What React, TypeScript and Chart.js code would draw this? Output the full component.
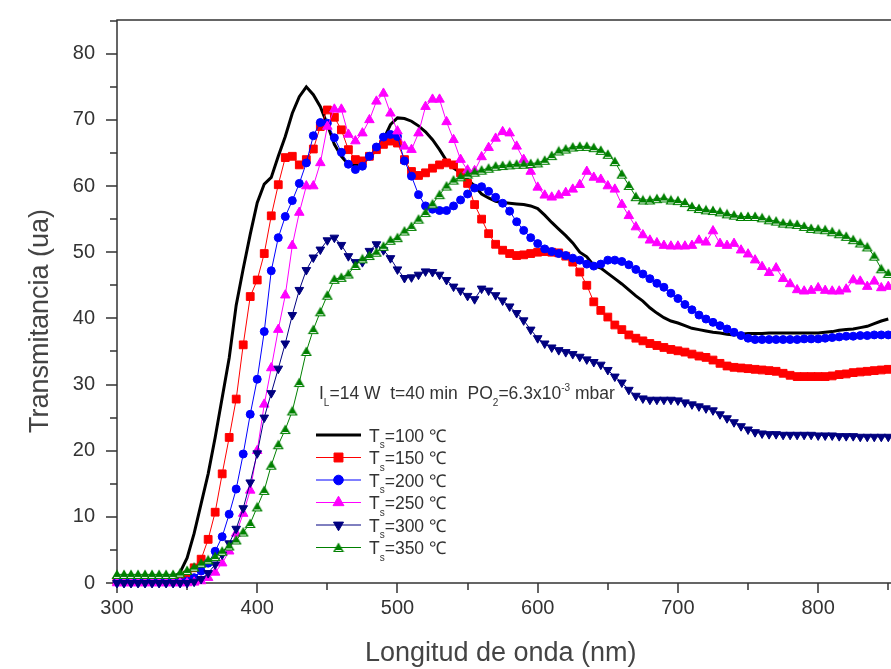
import React, { useEffect, useRef } from 'react';
import { Chart, registerables } from 'chart.js';

Chart.register(...registerables);

const FONT = '"Liberation Sans", Arial, sans-serif';

// Wavelength (nm)
const wavelength = [
  300, 305, 310, 315, 320, 325, 330, 335, 340, 345,
  350, 355, 360, 365, 370, 375, 380, 385, 390, 395,
  400, 405, 410, 415, 420, 425, 430, 435, 440, 445,
  450, 455, 460, 465, 470, 475, 480, 485, 490, 495,
  500, 505, 510, 515, 520, 525, 530, 535, 540, 545,
  550, 555, 560, 565, 570, 575, 580, 585, 590, 595,
  600, 605, 610, 615, 620, 625, 630, 635, 640, 645,
  650, 655, 660, 665, 670, 675, 680, 685, 690, 695,
  700, 705, 710, 715, 720, 725, 730, 735, 740, 745,
  750, 755, 760, 765, 770, 775, 780, 785, 790, 795,
  800, 805, 810, 815, 820, 825, 830, 835, 840, 845,
  850,
];

const ts100 = [
  0.5, 0.5, 0.5, 0.5, 0.5, 0.5, 0.5, 0.5, 0.7, 1.6,
  3.8, 7.5, 12, 16.5, 22, 28, 34, 42, 47.5, 52.7,
  57.5, 60.3, 61.3, 64.5, 67.5, 71, 73.5, 75, 73.8, 72,
  69.3, 66.3, 64.5, 63.3, 63.2, 63.5, 64.3, 65.5, 67, 69.3,
  70.3, 70.2, 69.8, 69.1, 68.2, 67, 65.5, 63.8, 62.7, 62,
  61, 60, 58.8, 58.2, 57.7, 57.5, 57.4, 57.3, 57.2, 57,
  56.6, 55.6, 54.5, 53.5, 52.5, 51.4, 50, 49.3, 48, 47.6,
  46.8, 46, 45.2, 44.3, 43.4, 42.6, 41.6, 40.8, 40.1, 39.6,
  39.3, 38.9, 38.5, 38.3, 38.1, 37.9, 37.8, 37.6, 37.5, 37.6,
  37.7, 37.7, 37.7, 37.8, 37.8, 37.8, 37.8, 37.8, 37.8, 37.8,
  37.8, 37.9, 38, 38.2, 38.3, 38.4, 38.6, 38.8, 39.2, 39.6,
  39.9,
];

const ts150 = [
  0.3, 0.3, 0.3, 0.3, 0.3, 0.3, 0.3, 0.3, 0.3, 0.5,
  1.2, 2.3, 3.6, 6.6, 10.7, 16.5, 22, 27.8, 36, 43.3,
  45.8, 49.8, 55.5, 60.2, 64.3, 64.5, 63.2, 64, 65.6, 69,
  71.5, 70.4, 68.5, 65.5, 64, 63.8, 64.5, 65.5, 66.3, 66.8,
  66.5, 64, 62.2, 61.6, 62, 62.7, 63.2, 63.5, 63.2, 62,
  60.4, 57.2, 55, 52.8, 51.2, 50.3, 49.8, 49.5, 49.6, 49.8,
  50, 50.1, 50, 49.9, 49.4, 48.5, 47, 45, 42.5, 41.2,
  40.2, 39, 38.3, 37.5, 37, 36.6, 36.2, 35.9, 35.6, 35.3,
  35.1, 34.9, 34.6, 34.3, 34.1, 33.7, 33.2, 32.8, 32.6, 32.5,
  32.4, 32.3, 32.2, 32.1, 32, 31.7, 31.4, 31.2, 31.2, 31.2,
  31.2, 31.2, 31.3, 31.5, 31.6, 31.8, 31.9, 32, 32.1, 32.2,
  32.3,
];

const ts200 = [
  0.1, 0.1, 0.1, 0.1, 0.1, 0.1, 0.1, 0.1, 0.1, 0.1,
  0.3, 0.8, 1.8, 3.0, 4.8, 7.0, 10.4, 14.2, 19.5, 25.5,
  30.8, 38, 47.2, 52.2, 55.4, 57.8, 60.4, 63.5, 67.6, 69.6,
  69.5, 67.3, 65.1, 63.3, 62.5, 63, 64.5, 65.9, 67.4, 67.8,
  67.5, 63.8, 61.5, 58.7, 57, 56.5, 56.3, 56.3, 57, 57.9,
  58.8, 59.7, 59.9, 59.2, 58.3, 57.4, 56.2, 54.6, 53.3, 52.2,
  51.3, 50.5, 50.1, 49.8, 49.5, 49.1, 48.8, 48.2, 47.9, 48.2,
  48.8, 48.8, 48.6, 48.1, 47.4, 46.7, 46, 45.3, 44.7, 43.8,
  43, 42.1, 41.3, 40.5, 39.9, 39.4, 38.9, 38.4, 37.9, 37.4,
  37, 36.8, 36.8, 36.8, 36.8, 36.8, 36.8, 36.8, 36.9, 36.9,
  36.9, 37, 37.1, 37.2, 37.3, 37.3, 37.4, 37.4, 37.5, 37.5,
  37.5,
];

const ts250 = [
  0, 0, 0, 0, 0, 0, 0, 0, 0, 0,
  0, 0.1, 0.3, 0.8, 1.6, 3.0, 4.8, 7.5, 10.5, 14,
  20, 27, 32.5, 38.3, 43.5, 51, 56, 60, 60, 63.5,
  69, 71.6, 71.6, 67.8, 66.8, 68, 70, 72.8, 74, 71,
  68.3, 66, 65.5, 68, 72, 73.1, 73.1, 69.7, 67, 64,
  62.4, 62.3, 64.4, 65.8, 67.2, 68.2, 68, 66, 64, 62.2,
  59.8, 58.6, 58.3, 58.6, 59, 59.5, 60.2, 62.2, 61.3, 61,
  60, 59.5, 57.2, 55.5, 53.8, 52.6, 51.8, 51.4, 51, 50.9,
  50.9, 50.9, 51, 51.8, 51.5, 53.2, 51.3, 51, 51.3, 50.3,
  49.7, 48.8, 47.8, 46.9, 47.6, 46, 45.2, 44.3, 44.1, 44.2,
  44.6, 44.2, 44.1, 44.1, 44.4, 45.8, 45.6, 44.8, 45.6, 44.6,
  44.8,
];

const ts300 = [
  0, 0, 0, 0, 0, 0, 0, 0, 0, 0,
  0, 0.2, 0.6, 1.5, 2.8, 4.3, 6, 8.2, 11.3, 15.2,
  19.6, 25, 28.7, 32.4, 36.2, 40.5, 44.3, 47.3, 49.2, 50.4,
  51.8, 52.2, 51.1, 49.4, 48.5, 48.5, 50.2, 51.2, 50.3, 49.1,
  47.4, 46.1, 46.2, 46.6, 47.1, 47, 46.6, 45.8, 44.8, 44.2,
  43.4, 42.9, 44.5, 44.2, 43.5, 42.7, 41.8, 40.8, 39.7, 38.3,
  37, 36.2, 35.6, 35.2, 34.9, 34.6, 34.2, 33.8, 33.4, 33,
  32.2, 31.2, 30.3, 29.2, 28.3, 27.9, 27.7, 27.7, 27.7, 27.7,
  27.6, 27.3, 27, 26.7, 26.4, 26.1, 25.5, 24.9, 24.3, 23.7,
  23.2, 22.8, 22.6, 22.5, 22.5, 22.4, 22.4, 22.4, 22.4, 22.4,
  22.3, 22.3, 22.3, 22.2, 22.2, 22.2, 22.1, 22.1, 22.1, 22.1,
  22.1,
];

const ts350 = [
  1.3, 1.3, 1.3, 1.3, 1.3, 1.3, 1.3, 1.3, 1.3, 1.5,
  1.9, 2.4, 3.0, 3.5, 4.0, 4.8, 5.6, 6.5, 7.7, 9,
  11.5, 14, 17.8, 20.9, 23.2, 26, 30.3, 35, 38.3, 41,
  43.5, 45.9, 46.2, 46.7, 48, 49, 49.5, 50, 50.9, 51.8,
  52.2, 53.2, 53.9, 55, 56, 57.3, 58.7, 60, 60.9, 61.4,
  61.8, 62.1, 62.4, 62.7, 63, 63.1, 63.2, 63.3, 63.3, 63.4,
  63.5, 63.9, 64.6, 65.3, 65.6, 65.9, 66, 66, 65.8, 65.4,
  64.8, 63.7, 61.8, 60.1, 58.4, 57.9, 57.9, 58.1, 58.2, 57.9,
  57.8, 57.5, 56.9, 56.6, 56.4, 56.3, 56.1, 55.8, 55.6, 55.4,
  55.4, 55.4, 55.2, 54.9, 54.7, 54.4, 54.3, 54.2, 53.9, 53.6,
  53.5, 53.4, 53.1, 52.8, 52.4, 51.9, 51.4, 50.8, 49.4, 47.5,
  46.8,
];

const seriesTemps = ['100', '150', '200', '250', '300', '350'];
const xMajorTicks = [300, 400, 500, 600, 700, 800];
const xMinorTicks = [350, 450, 550, 650, 750, 850];
const yMajorTicks = [0, 10, 20, 30, 40, 50, 60, 70, 80];
const yMinorTicks = [5, 15, 25, 35, 45, 55, 65, 75, 85];
const xTitle = 'Longitud de onda (nm)';
const yTitle = 'Transmitancia (ua)';

function makeGreenMarker(): HTMLCanvasElement {
  const c = document.createElement('canvas');
  c.width = 12;
  c.height = 11;
  const g = c.getContext('2d')!;
  g.fillStyle = '#008000';
  g.beginPath();
  g.moveTo(6, 0.5);
  g.lineTo(11.5, 10);
  g.lineTo(0.5, 10);
  g.closePath();
  g.fill();
  g.fillStyle = '#f2faf2';
  g.strokeStyle = '#008000';
  g.lineWidth = 1;
  g.beginPath();
  g.rect(2.5, 7.5, 7, 2);
  g.fill();
  g.stroke();
  return c;
}

type Part = [string, 'n' | 'b' | 'p'];

function drawRich(ctx: CanvasRenderingContext2D, parts: Part[], x: number, y: number, size: number, small: number) {
  let cx = x;
  for (const [t, m] of parts) {
    ctx.font = `${m === 'n' ? size : small}px ${FONT}`;
    const dy = m === 'b' ? size * 0.38 : m === 'p' ? -size * 0.45 : 0;
    ctx.fillText(t, cx, y + dy);
    cx += ctx.measureText(t).width;
  }
}

function drawMarker(ctx: CanvasRenderingContext2D, ds: any, x: number, y: number) {
  const style = ds.pointStyle;
  const r = (ds.pointRadius || 0) + 0.8;
  ctx.save();
  if (style instanceof HTMLCanvasElement) {
    ctx.drawImage(style, x - style.width / 2, y - style.height / 2);
    ctx.restore();
    return;
  }
  if (!ds.pointRadius) { ctx.restore(); return; }
  ctx.fillStyle = ds.backgroundColor;
  ctx.strokeStyle = ds.borderColor;
  ctx.lineWidth = 1;
  ctx.beginPath();
  if (style === 'circle') {
    ctx.arc(x, y, r, 0, Math.PI * 2);
  } else if (style === 'rect') {
    const s = r * Math.SQRT1_2;
    ctx.rect(x - s, y - s, 2 * s, 2 * s);
  } else if (style === 'triangle') {
    const rot = ((ds.pointRotation || 0) * Math.PI) / 180;
    for (let k = 0; k < 3; k++) {
      const a = -Math.PI / 2 + rot + (k * 2 * Math.PI) / 3;
      const px = x + Math.cos(a) * r;
      const py = y + Math.sin(a) * r;
      if (k === 0) ctx.moveTo(px, py);
      else ctx.lineTo(px, py);
    }
    ctx.closePath();
  }
  ctx.fill();
  ctx.stroke();
  ctx.restore();
}

const framePlugin = {
  id: 'frame',
  beforeDatasetsDraw(chart: any) {
    const { ctx, chartArea: a, scales } = chart;
    const xs = scales.x;
    const ys = scales.y;
    const right = chart.width;
    ctx.save();
    ctx.strokeStyle = '#333';
    ctx.lineWidth = 1.5;
    ctx.beginPath();
    ctx.moveTo(a.left, a.top);
    ctx.lineTo(a.left, a.bottom);
    ctx.moveTo(a.left, a.bottom);
    ctx.lineTo(right, a.bottom);
    ctx.moveTo(a.left - 0.75, a.top);
    ctx.lineTo(right, a.top);
    for (const v of xMajorTicks) {
      const p = Math.round(xs.getPixelForValue(v));
      ctx.moveTo(p, a.bottom);
      ctx.lineTo(p, a.bottom + 10);
    }
    for (const v of xMinorTicks) {
      const p = Math.round(xs.getPixelForValue(v));
      if (p > right) continue;
      ctx.moveTo(p, a.bottom);
      ctx.lineTo(p, a.bottom + 7);
    }
    for (const v of yMajorTicks) {
      const p = Math.round(ys.getPixelForValue(v));
      ctx.moveTo(a.left, p);
      ctx.lineTo(a.left - 11, p);
    }
    for (const v of yMinorTicks) {
      const p = Math.round(ys.getPixelForValue(v));
      ctx.moveTo(a.left, p);
      ctx.lineTo(a.left - 7, p);
    }
    ctx.stroke();

    // rotated y-axis title
    ctx.save();
    ctx.translate(41, 321);
    ctx.rotate(-Math.PI / 2);
    ctx.font = `27px ${FONT}`;
    ctx.fillStyle = '#444';
    ctx.textAlign = 'center';
    ctx.textBaseline = 'middle';
    ctx.fillText(yTitle, 0, 0);
    ctx.restore();
    ctx.restore();
  },
};

const legendPlugin = {
  id: 'innerLegend',
  afterDatasetsDraw(chart: any) {
    const { ctx } = chart;
    ctx.save();
    ctx.fillStyle = '#333';
    ctx.textBaseline = 'alphabetic';
    drawRich(ctx, [
      ['I', 'n'], ['L', 'b'], ['=14 W  t=40 min  PO', 'n'], ['2', 'b'],
      ['=6.3x10', 'n'], ['-3', 'p'], [' mbar', 'n'],
    ], 319, 399, 17.5, 10);

    const lx0 = 316;
    const lx1 = 361;
    const tx = 369;
    const y0 = 435;
    const dy = 22.5;
    chart.data.datasets.forEach((ds: any, i: number) => {
      const y = y0 + i * dy;
      ctx.save();
      ctx.strokeStyle = ds.borderColor;
      ctx.lineWidth = ds.borderWidth;
      ctx.beginPath();
      ctx.moveTo(lx0, y);
      ctx.lineTo(lx1, y);
      ctx.stroke();
      ctx.restore();
      drawMarker(ctx, ds, (lx0 + lx1) / 2, y);
      ctx.fillStyle = '#333';
      drawRich(ctx, [['T', 'n'], ['s', 'b'], ['=' + seriesTemps[i] + ' ℃', 'n']], tx, y + 6.5, 17.5, 10);
    });
    ctx.restore();
  },
};

export default function App() {
  const ref = useRef<HTMLCanvasElement>(null);

  useEffect(() => {
    const canvas = ref.current!;
    const green = makeGreenMarker();
    const pts = (arr: number[]) => wavelength.map((x, i) => ({ x, y: arr[i] }));
    const clip = { left: 6, top: 6, right: 12, bottom: 8 };
    const common = { borderWidth: 1, pointBorderWidth: 1, tension: 0, clip, showLine: true };
    const datasets: any[] = [
      { label: 'Ts=100', data: pts(ts100), borderColor: '#000000', backgroundColor: '#000000', borderWidth: 3, pointRadius: 0, tension: 0, clip, order: 5 },
      { ...common, label: 'Ts=150', data: pts(ts150), borderColor: '#ff0000', backgroundColor: '#ff0000', pointBorderColor: '#ff0000', pointBackgroundColor: '#ff0000', pointStyle: 'rect', pointRadius: 5.5, order: 4 },
      { ...common, label: 'Ts=200', data: pts(ts200), borderColor: '#0000ff', backgroundColor: '#0000ff', pointBorderColor: '#0000ff', pointBackgroundColor: '#0000ff', pointStyle: 'circle', pointRadius: 4, order: 3 },
      { ...common, label: 'Ts=250', data: pts(ts250), borderColor: '#ff00ff', backgroundColor: '#ff00ff', pointBorderColor: '#ff00ff', pointBackgroundColor: '#ff00ff', pointStyle: 'triangle', pointRadius: 5.5, order: 2 },
      { ...common, label: 'Ts=300', data: pts(ts300), borderColor: '#000080', backgroundColor: '#000080', pointBorderColor: '#000080', pointBackgroundColor: '#000080', pointStyle: 'triangle', pointRotation: 180, pointRadius: 5, order: 1 },
      { ...common, label: 'Ts=350', data: pts(ts350), borderColor: '#008000', backgroundColor: '#008000', pointBorderColor: '#008000', pointBackgroundColor: '#008000', pointStyle: green, pointRadius: 5, order: 0 },
    ];

    const chart = new Chart(canvas, {
      type: 'line',
      data: { datasets },
      options: {
        animation: false,
        responsive: false,
        events: [],
        layout: { padding: { top: 20, right: -6, bottom: 0, left: 0 } },
        plugins: { legend: { display: false }, tooltip: { enabled: false } },
        scales: {
          x: {
            type: 'linear',
            min: 300,
            max: 847.3,
            afterBuildTicks: (s: any) => { s.ticks = xMajorTicks.map((v) => ({ value: v })); },
            afterFit: (s: any) => { s.height = 86; s.paddingLeft = 0; s.paddingRight = 0; },
            grid: { display: false, drawTicks: false },
            border: { display: false },
            ticks: { padding: 13, color: '#333', font: { family: FONT, size: 20 }, maxRotation: 0, autoSkip: false },
            title: { display: true, text: xTitle, color: '#444', font: { family: FONT, size: 27 }, padding: { top: 0, bottom: -1 } },
          },
          y: {
            type: 'linear',
            min: 0,
            max: 85.1,
            afterBuildTicks: (s: any) => { s.ticks = yMajorTicks.map((v) => ({ value: v })); },
            afterFit: (s: any) => { s.width = 117; s.paddingTop = 0; s.paddingBottom = 0; },
            grid: { display: false, drawTicks: false },
            border: { display: false },
            ticks: { padding: 22, color: '#333', font: { family: FONT, size: 20 }, autoSkip: false },
            title: { display: false, text: yTitle },
          },
        },
      } as any,
      plugins: [framePlugin, legendPlugin],
    });
    return () => chart.destroy();
  }, []);

  return (
    <div style={{ position: 'fixed', left: 0, top: 0, width: 891, height: 669, background: '#fff' }}>
      <canvas ref={ref} width={891} height={669} style={{ display: 'block', width: 891, height: 669 }} />
    </div>
  );
}
